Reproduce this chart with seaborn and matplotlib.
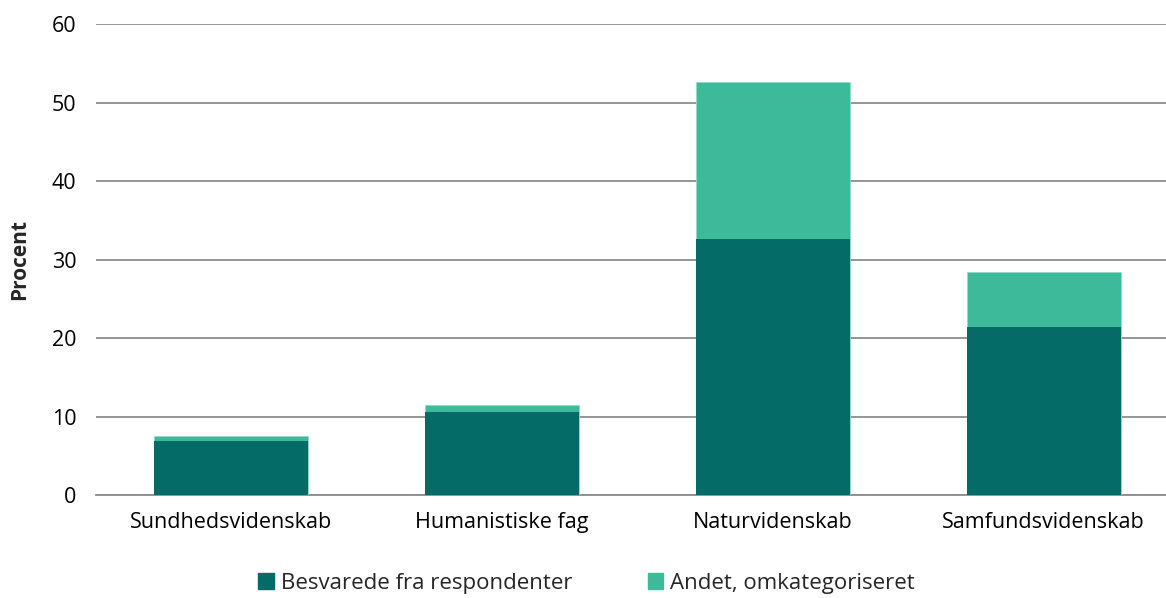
import pandas as pd
import matplotlib.pyplot as plt
import seaborn as sns
from matplotlib.patches import Patch

# Data
categories = ['Sundhedsvidenskab', 'Humanistiske fag', 'Naturvidenskab', 'Samfundsvidenskab']
besvarede = [6.9, 10.6, 32.6, 21.4]
andet = [0.6, 0.9, 20.0, 7.0]

dark = '#056B67'
light = '#3CBA9A'

df = pd.DataFrame({'Kategori': categories, 'Besvarede': besvarede, 'Andet': andet})
df['Total'] = df['Besvarede'] + df['Andet']

sns.set_style('white')
plt.rcParams['font.family'] = ['Open Sans', 'DejaVu Sans']

fig = plt.figure(figsize=(11.66, 5.98), dpi=100)
ax = fig.add_axes([0.0823, 0.1722, 0.929, 0.7876])

# stacked: draw totals in the light colour, then the lower part on top
sns.barplot(data=df, x='Kategori', y='Total', color=light, width=0.569,
            saturation=1, ax=ax, zorder=3, edgecolor='#8fdcc6', linewidth=0.6)
sns.barplot(data=df, x='Kategori', y='Besvarede', color=dark, width=0.569,
            saturation=1, ax=ax, zorder=4, linewidth=0)

ax.set_ylim(0, 60)
ax.set_yticks(range(0, 61, 10))
ax.yaxis.grid(True, color='#8c8c8c', linewidth=1.3, zorder=0)
ax.xaxis.grid(False)
for s in ['top', 'right', 'left']:
    ax.spines[s].set_visible(False)
ax.spines['bottom'].set_color('#8c8c8c')
ax.spines['bottom'].set_linewidth(1.3)
ax.tick_params(axis='both', length=0, labelsize=15.5, colors='black')
ax.tick_params(axis='y', pad=14)
ax.tick_params(axis='x', pad=12)
ax.set_xlabel('')
ax.set_ylabel('Procent', fontsize=15, fontweight='bold', labelpad=16)

handles = [Patch(color=dark, label='Besvarede fra respondenter'),
           Patch(color=light, label='Andet, omkategoriseret')]
fig.legend(handles=handles, loc='center', bbox_to_anchor=(0.503, 0.025), ncol=2,
           frameon=False, fontsize=16, handlelength=0.7, handleheight=0.7,
           handletextpad=0.3, columnspacing=3.4)

fig.savefig('out.png', dpi=100)
